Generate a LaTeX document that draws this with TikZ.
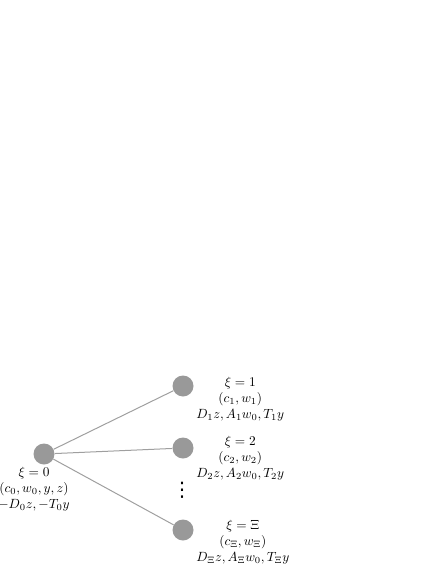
\documentclass[tikz,border=0pt]{standalone}
\usepackage{fontspec}
\newfontfamily\dotsfont{DejaVu Sans}
\usetikzlibrary{positioning}

\tikzset{
  state/.style={circle, fill=gray!80, inner sep=0pt, minimum size=15.75pt},
  info/.style={align=center, inner sep=0pt},
  edge/.style={draw=gray!75, line width=0.75pt}
}

\begin{document}
\begin{tikzpicture}[x=0.75pt, y=-0.75pt]
      \useasboundingbox (0,0) rectangle (436,564);
      \node[state] (root) at (44,454) {};
      \node[info] (root label) at (34,489) {$\xi = 0$\\ $(c_0, w_0, y, z)$\\ $-D_0z, -T_0y$};
      \foreach \name/\y/\ly/\idx in {one/386/399/1, two/448/458/2, last/530/542/\Xi} {
          \node[state] (\name) at (183,\y) {};
          \node[info, anchor=west] (\name label) at (196,\ly)
              {$\xi = \idx$\\ $(c_{\idx}, w_{\idx})$\\ $D_{\idx}z, A_{\idx}w_0, T_{\idx}y$};
          \draw[edge] (root) -- (\name);
      }
      \node[inner sep=0pt, font=\dotsfont\fontsize{15}{15}\selectfont] (dots) at (182,490) {⋮};
    \end{tikzpicture}
\end{document}
